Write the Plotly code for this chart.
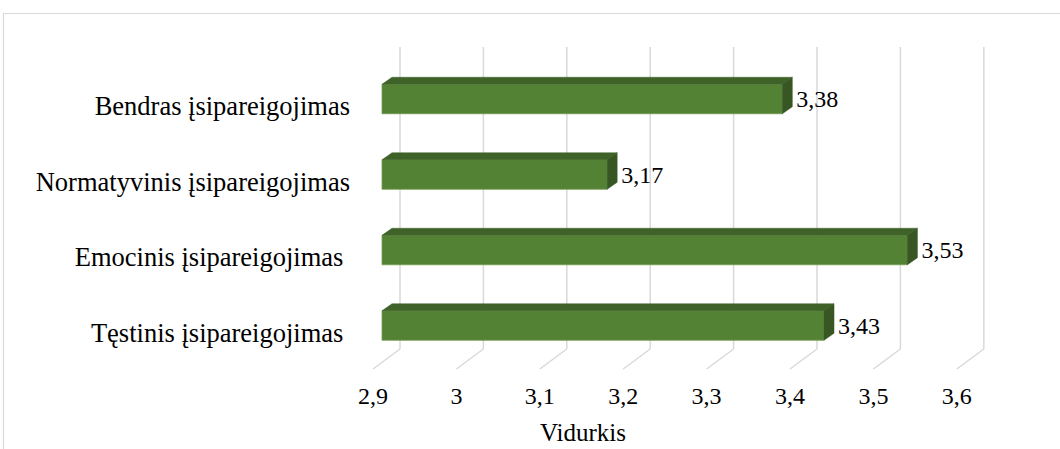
import plotly.graph_objects as go

# ---- data -------------------------------------------------------------
categories = [
    "Bendras įsipareigojimas",
    "Normatyvinis įsipareigojimas",
    "Emocinis įsipareigojimas\u00a0",
    "Tęstinis įsipareigojimas\u00a0",
]
means = [3.38, 3.17, 3.53, 3.43]
x_ticks = [2.9, 3.0, 3.1, 3.2, 3.3, 3.4, 3.5, 3.6]
axis_title = "Vidurkis"

# ---- geometry ---------------------------------------------------------
W, H = 1060, 449
ML, MR, MT, MB = 354, 20, 46, 67
BASE = 2.9            # value where the bars start
PX_PER_UNIT = 834.0   # horizontal pixels per 1.0 on the value axis
PX_PER_ROW = 75.5     # vertical pixels between category rows
X0_PX = 382           # pixel column of BASE on the bar front plane
ROW0_PX = 99          # pixel row of the first category centre
BAR_PX = 29.5         # bar thickness in pixels

n = len(categories)
pos = [n - 1 - i for i in range(n)]   # first category on top


def dx(px):
    return px / PX_PER_UNIT


def dy(px):
    return px / PX_PER_ROW


def y_of(py):
    return (n - 1) - (py - ROW0_PX) / PX_PER_ROW


x_range = [BASE - dx(X0_PX - ML), BASE + dx(W - MR - X0_PX)]
y_range = [y_of(H - MB), y_of(MT)]
bar_w = dy(BAR_PX)

# 3-D depth: back face of the bars is 10px right / 7px up of the front face
DEP_X, DEP_Y = dx(10), dy(7)
# back wall and floor front relative to the bar front plane
WALL_X = dx(18)
WALL_TOP, WALL_BOT = y_of(47), y_of(349)
FLOOR_X = dx(-9)
FLOOR_Y = y_of(369)

FRONT = "#548235"
TOP = "#3f6229"
SIDE = "#375623"
GRID = "#d9d9d9"
SERIF = "Liberation Serif"

fig = go.Figure()

# front faces
fig.add_trace(go.Bar(
    orientation="h",
    y=pos,
    x=[m - BASE for m in means],
    base=BASE,
    width=bar_w,
    marker=dict(color=FRONT, line=dict(color="#6f9a50", width=0.8)),
    customdata=means,
    hovertemplate="%{customdata:.2f}<extra></extra>",
    showlegend=False,
))

# top faces
tx, ty = [], []
for m, p in zip(means, pos):
    t = p + bar_w / 2
    tx += [BASE, m, m + DEP_X, BASE + DEP_X, BASE, None]
    ty += [t, t, t + DEP_Y, t + DEP_Y, t, None]
fig.add_trace(go.Scatter(
    x=tx, y=ty, mode="lines", fill="toself", fillcolor=TOP,
    line=dict(color=TOP, width=0.5), hoverinfo="skip", showlegend=False,
))

# side faces
sx, sy = [], []
for m, p in zip(means, pos):
    t = p + bar_w / 2
    b = p - bar_w / 2
    sx += [m, m + DEP_X, m + DEP_X, m, m, None]
    sy += [t, t + DEP_Y, b + DEP_Y, b, t, None]
fig.add_trace(go.Scatter(
    x=sx, y=sy, mode="lines", fill="toself", fillcolor=SIDE,
    line=dict(color=SIDE, width=0.5), hoverinfo="skip", showlegend=False,
))

# value labels
fig.add_trace(go.Scatter(
    x=[m + dx(14) for m in means],
    y=[p - dy(2) for p in pos],
    mode="text",
    customdata=means,
    texttemplate="%{customdata:.2f}",
    textposition="middle right",
    textfont=dict(family=SERIF, size=24, color="#000000"),
    hoverinfo="skip",
    showlegend=False,
))

# back-wall gridlines and their floor continuation
shapes = []
for v in x_ticks:
    shapes.append(dict(type="line", xref="x", yref="y", layer="below",
                       x0=v + WALL_X, y0=WALL_TOP, x1=v + WALL_X, y1=WALL_BOT,
                       line=dict(color=GRID, width=1.5)))
    shapes.append(dict(type="line", xref="x", yref="y", layer="below",
                       x0=v + WALL_X, y0=WALL_BOT, x1=v + FLOOR_X, y1=FLOOR_Y,
                       line=dict(color=GRID, width=1.5)))

# chart-area border
PW, PH = W - ML - MR, H - MT - MB


def px_x(px):
    return (px - ML) / PW


def px_y(py):
    return (H - MB - py) / PH


shapes.append(dict(type="rect", xref="paper", yref="paper", layer="below",
                   x0=px_x(3.5), y0=px_y(13.5), x1=px_x(W + 20), y1=px_y(H + 20),
                   line=dict(color=GRID, width=1.2), fillcolor="rgba(0,0,0,0)"))

fig.update_layout(
    width=W, height=H,
    margin=dict(l=ML, r=MR, t=MT, b=MB, pad=0),
    paper_bgcolor="white",
    plot_bgcolor="white",
    separators=",.",
    showlegend=False,
    shapes=shapes,
    annotations=[dict(
        text=axis_title, xref="paper", yref="paper",
        x=px_x(583), y=px_y(433), xanchor="center", yanchor="middle",
        showarrow=False, font=dict(family=SERIF, size=25, color="#000000"),
    )],
    xaxis=dict(
        range=x_range, tickvals=x_ticks, showgrid=False, zeroline=False,
        showline=False, ticks="", ticklabelshift=-9, ticklabelstandoff=-3,
        tickfont=dict(family=SERIF, size=24, color="#000000"),
        fixedrange=True,
    ),
    yaxis=dict(
        range=y_range, tickvals=pos, ticktext=categories, showgrid=False,
        zeroline=False, showline=False, ticks="", ticklabelshift=7,
        ticklabelstandoff=3,
        tickfont=dict(family=SERIF, size=26.5, color="#000000"),
        fixedrange=True,
    ),
)

fig.write_html("out.html", config={"displayModeBar": False})
